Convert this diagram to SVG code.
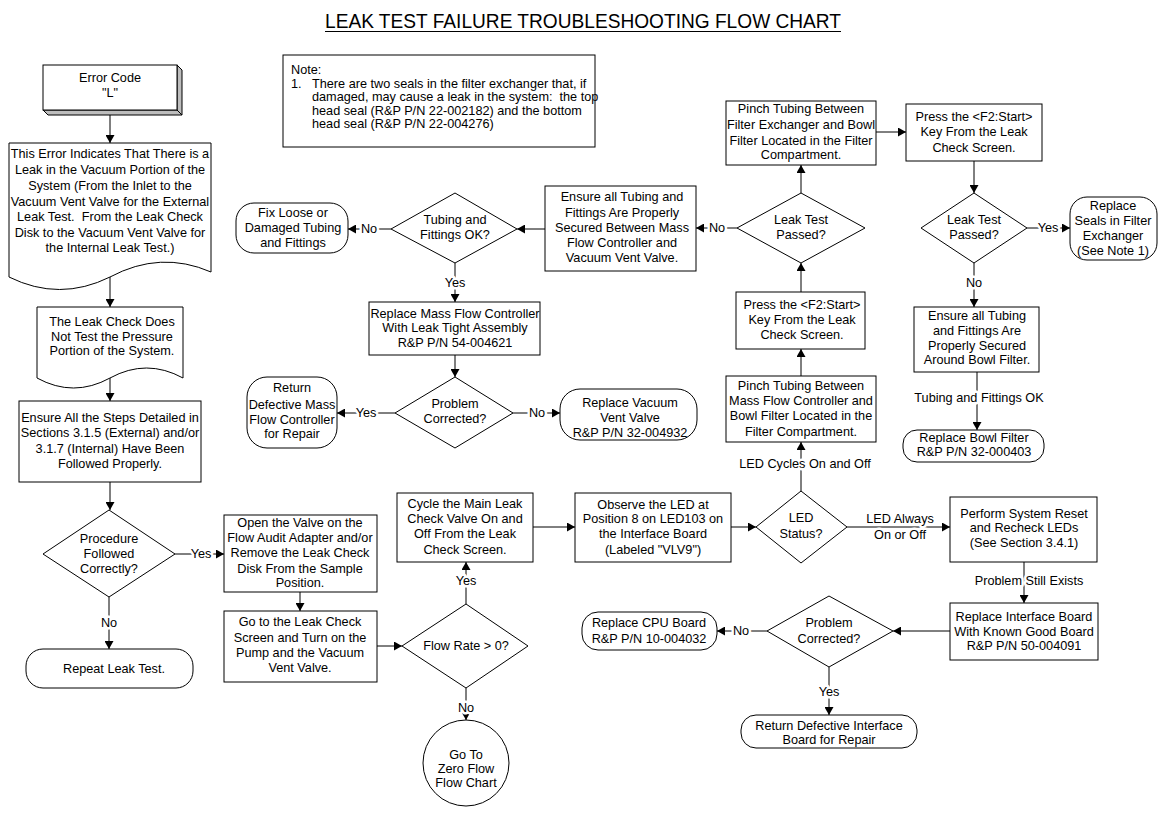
<svg xmlns="http://www.w3.org/2000/svg" width="1158" height="813" viewBox="0 0 1158 813">
<style>
text{font-family:"Liberation Sans",Arial,sans-serif;font-size:12.7px;fill:#000;text-anchor:middle;dominant-baseline:central;white-space:pre}
.box{fill:#fff;stroke:#000;stroke-width:1}
.side{fill:#bdbdbd;stroke:#000;stroke-width:1}
.c{fill:none;stroke:#000;stroke-width:1}
.a{marker-end:url(#ah)}
.lbl{paint-order:stroke;stroke:#fff;stroke-width:5px;stroke-linejoin:round}
.note{text-anchor:start}
.title{font-size:21px;dominant-baseline:alphabetic}
</style>
<defs>
<marker id="ah" markerUnits="userSpaceOnUse" markerWidth="9" markerHeight="9" refX="8" refY="4.5" orient="auto"><path d="M0,0 L8,4.5 L0,9 Z" fill="#000"/></marker>
</defs>
<rect width="1158" height="813" fill="#fff"/>
<g id="title"><text class="title" x="583" y="28" textLength="516" lengthAdjust="spacingAndGlyphs">LEAK TEST FAILURE TROUBLESHOOTING FLOW CHART</text><line x1="325" y1="31.5" x2="841" y2="31.5" stroke="#000" stroke-width="1"/></g>

<g id="connectors">
<line class="c a" x1="110" y1="115" x2="110" y2="143"/>
<line class="c a" x1="110" y1="277" x2="110" y2="307"/>
<line class="c a" x1="110" y1="378" x2="110" y2="401"/>
<line class="c a" x1="110" y1="482" x2="110" y2="510"/>
<line class="c a" x1="175" y1="554" x2="224" y2="554"/>
<line class="c a" x1="109" y1="597" x2="109" y2="649"/>
<line class="c a" x1="300" y1="592" x2="300" y2="611"/>
<line class="c a" x1="377" y1="646" x2="402" y2="646"/>
<line class="c a" x1="466" y1="604" x2="466" y2="562"/>
<line class="c a" x1="466" y1="688" x2="466" y2="720"/>
<line class="c a" x1="533" y1="527" x2="575" y2="527"/>
<line class="c a" x1="731" y1="527" x2="756" y2="527"/>
<line class="c a" x1="801" y1="491" x2="801" y2="442"/>
<line class="c a" x1="801" y1="376" x2="801" y2="349"/>
<line class="c a" x1="801" y1="292" x2="801" y2="263"/>
<line class="c a" x1="801" y1="193" x2="801" y2="165"/>
<line class="c a" x1="876" y1="132" x2="906" y2="132"/>
<line class="c a" x1="974" y1="161" x2="974" y2="193"/>
<line class="c a" x1="1027" y1="228" x2="1070" y2="228"/>
<line class="c a" x1="974" y1="263" x2="974" y2="307"/>
<line class="c a" x1="977" y1="372" x2="977" y2="430"/>
<line class="c a" x1="737" y1="228" x2="696" y2="228"/>
<line class="c a" x1="545" y1="229" x2="517" y2="229"/>
<line class="c a" x1="391" y1="229" x2="348" y2="229"/>
<line class="c a" x1="455" y1="263" x2="455" y2="302"/>
<line class="c a" x1="455" y1="355" x2="455" y2="377"/>
<line class="c a" x1="395" y1="413" x2="337" y2="413"/>
<line class="c a" x1="513" y1="413" x2="560" y2="413"/>
<line class="c a" x1="847" y1="527" x2="950" y2="527"/>
<line class="c a" x1="1024" y1="562" x2="1024" y2="603"/>
<line class="c a" x1="950" y1="631" x2="893" y2="631"/>
<line class="c a" x1="767" y1="631" x2="717" y2="631"/>
<line class="c a" x1="829" y1="667" x2="829" y2="715"/>
<text class="lbl" x="201" y="554">Yes</text>
<text class="lbl" x="109" y="623">No</text>
<text class="lbl" x="466" y="581">Yes</text>
<text class="lbl" x="466" y="708">No</text>
<text class="lbl" x="805" y="464">LED Cycles On and Off</text>
<text class="lbl" x="1048" y="228">Yes</text>
<text class="lbl" x="974" y="283">No</text>
<text class="lbl" x="979" y="398">Tubing and Fittings OK</text>
<text class="lbl" x="717" y="228">No</text>
<text class="lbl" x="369" y="229">No</text>
<text class="lbl" x="455" y="283">Yes</text>
<text class="lbl" x="366" y="413">Yes</text>
<text class="lbl" x="537" y="413">No</text>
<text class="lbl" x="900"><tspan x="900" y="519">LED Always</tspan><tspan x="900" y="535">On or Off</tspan></text>
<text class="lbl" x="1029" y="581">Problem Still Exists</text>
<text class="lbl" x="741" y="631">No</text>
<text class="lbl" x="829" y="692">Yes</text>
</g>

<g id="n_error">
<polygon class="side" points="177,65 182,70 182,115 177,110"/>
<polygon class="side" points="43,110 48,115 182,115 177,110"/>
<rect class="box" x="43" y="65" width="134" height="45"/>
<text><tspan x="110" y="78">Error Code</tspan><tspan x="110" y="93">"L"</tspan></text>
</g>

<g id="n_doc1">
<path class="box" d="M9,143 H211 V272 Q160.5,250 110,277 Q59.5,302 9,277 Z"/>
<text><tspan x="110" y="154">This Error Indicates That There is a</tspan><tspan x="110" y="170">Leak in the Vacuum Portion of the</tspan><tspan x="110" y="186">System (From the Inlet to the</tspan><tspan x="110" y="202">Vacuum Vent Valve for the External</tspan><tspan x="110" y="217">Leak Test.  From the Leak Check</tspan><tspan x="110" y="233">Disk to the Vacuum Vent Valve for</tspan><tspan x="110" y="248">the Internal Leak Test.)</tspan></text>
</g>

<g id="n_doc2">
<path class="box" d="M37,307 H183 V378 Q146.5,358 110,378 Q73.5,398 37,378 Z"/>
<text><tspan x="112" y="322">The Leak Check Does</tspan><tspan x="112" y="337">Not Test the Pressure</tspan><tspan x="112" y="351">Portion of the System.</tspan></text>
</g>

<g id="n_ensure_steps">
<rect class="box" x="19" y="401" width="182" height="81"/>
<text><tspan x="110" y="418">Ensure All the Steps Detailed in</tspan><tspan x="110" y="433">Sections 3.1.5 (External) and/or</tspan><tspan x="110" y="449">3.1.7 (Internal) Have Been</tspan><tspan x="110" y="464">Followed Properly.</tspan></text>
</g>

<g id="d_procedure">
<polygon class="box" points="109,510 175,554 109,597 43,554"/>
<text><tspan x="109" y="539">Procedure</tspan><tspan x="109" y="554">Followed</tspan><tspan x="109" y="569">Correctly?</tspan></text>
</g>

<g id="t_repeat">
<rect class="box" x="26" y="649" width="167" height="39" rx="17" ry="17"/>
<text x="114" y="669">Repeat Leak Test.</text>
</g>

<g id="n_open_valve">
<rect class="box" x="224" y="515" width="153" height="77"/>
<text><tspan x="300" y="523">Open the Valve on the</tspan><tspan x="300" y="538">Flow Audit Adapter and/or</tspan><tspan x="300" y="553">Remove the Leak Check</tspan><tspan x="300" y="569">Disk From the Sample</tspan><tspan x="300" y="583">Position.</tspan></text>
</g>

<g id="n_goto_screen">
<rect class="box" x="224" y="611" width="153" height="71"/>
<text><tspan x="300" y="622">Go to the Leak Check</tspan><tspan x="300" y="638">Screen and Turn on the</tspan><tspan x="300" y="653">Pump and the Vacuum</tspan><tspan x="300" y="668">Vent Valve.</tspan></text>
</g>

<g id="d_flowrate">
<polygon class="box" points="466,604 528,646 466,688 402,646"/>
<text x="466" y="646">Flow Rate &gt; 0?</text>
</g>

<g id="c_zero">
<circle class="box" cx="466" cy="763" r="43"/>
<text><tspan x="466" y="755">Go To</tspan><tspan x="466" y="769">Zero Flow</tspan><tspan x="466" y="783">Flow Chart</tspan></text>
</g>

<g id="n_cycle">
<rect class="box" x="397" y="493" width="136" height="69"/>
<text><tspan x="465" y="504">Cycle the Main Leak</tspan><tspan x="465" y="519">Check Valve On and</tspan><tspan x="465" y="534">Off From the Leak</tspan><tspan x="465" y="550">Check Screen.</tspan></text>
</g>

<g id="n_observe">
<rect class="box" x="575" y="493" width="156" height="69"/>
<text><tspan x="653" y="505">Observe the LED at</tspan><tspan x="653" y="519">Position 8 on LED103 on</tspan><tspan x="653" y="534">the Interface Board</tspan><tspan x="653" y="550">(Labeled "VLV9")</tspan></text>
</g>

<g id="d_led">
<polygon class="box" points="801,491 847,527 801,563 756,527"/>
<text><tspan x="801" y="518">LED</tspan><tspan x="801" y="534">Status?</tspan></text>
</g>

<g id="n_pinch_mfc">
<rect class="box" x="726" y="376" width="150" height="66"/>
<text><tspan x="801" y="386">Pinch Tubing Between</tspan><tspan x="801" y="401">Mass Flow Controller and</tspan><tspan x="801" y="416">Bowl Filter Located in the</tspan><tspan x="801" y="432">Filter Compartment.</tspan></text>
</g>

<g id="n_press1">
<rect class="box" x="736" y="292" width="129" height="57"/>
<text><tspan x="802" y="305">Press the &lt;F2:Start&gt;</tspan><tspan x="802" y="320">Key From the Leak</tspan><tspan x="802" y="335">Check Screen.</tspan></text>
</g>

<g id="d_leak1">
<polygon class="box" points="801,193 865,228 801,263 737,228"/>
<text><tspan x="801" y="220">Leak Test</tspan><tspan x="801" y="235">Passed?</tspan></text>
</g>

<g id="n_pinch_fe">
<rect class="box" x="726" y="101" width="150" height="64"/>
<text><tspan x="801" y="109">Pinch Tubing Between</tspan><tspan x="801" y="125">Filter Exchanger and Bowl</tspan><tspan x="801" y="141">Filter Located in the Filter</tspan><tspan x="801" y="155">Compartment.</tspan></text>
</g>

<g id="n_press2">
<rect class="box" x="906" y="104" width="136" height="57"/>
<text><tspan x="974" y="117">Press the &lt;F2:Start&gt;</tspan><tspan x="974" y="132">Key From the Leak</tspan><tspan x="974" y="148">Check Screen.</tspan></text>
</g>

<g id="d_leak2">
<polygon class="box" points="974,193 1027,228 974,263 921,228"/>
<text><tspan x="974" y="220">Leak Test</tspan><tspan x="974" y="235">Passed?</tspan></text>
</g>

<g id="t_seals">
<rect class="box" x="1070" y="197" width="87" height="63" rx="17" ry="17"/>
<text><tspan x="1113" y="206">Replace</tspan><tspan x="1113" y="221">Seals in Filter</tspan><tspan x="1113" y="236">Exchanger</tspan><tspan x="1113" y="251">(See Note 1)</tspan></text>
</g>

<g id="n_ensure_bowl">
<rect class="box" x="914" y="307" width="125" height="65"/>
<text><tspan x="977" y="316">Ensure all Tubing</tspan><tspan x="977" y="331">and Fittings Are</tspan><tspan x="977" y="346">Properly Secured</tspan><tspan x="977" y="360">Around Bowl Filter.</tspan></text>
</g>

<g id="t_bowl">
<rect class="box" x="903" y="430" width="141" height="32" rx="14" ry="14"/>
<text><tspan x="974" y="438">Replace Bowl Filter</tspan><tspan x="974" y="452">R&amp;P P/N 32-000403</tspan></text>
</g>

<g id="n_reset">
<rect class="box" x="950" y="497" width="147" height="65"/>
<text><tspan x="1024" y="514">Perform System Reset</tspan><tspan x="1024" y="528">and Recheck LEDs</tspan><tspan x="1024" y="543">(See Section 3.4.1)</tspan></text>
</g>

<g id="n_replace_if">
<rect class="box" x="950" y="603" width="148" height="57"/>
<text><tspan x="1024" y="617">Replace Interface Board</tspan><tspan x="1024" y="632">With Known Good Board</tspan><tspan x="1024" y="646">R&amp;P P/N 50-004091</tspan></text>
</g>

<g id="d_problem2">
<polygon class="box" points="829,596 893,631 829,667 767,631"/>
<text><tspan x="829" y="623">Problem</tspan><tspan x="829" y="639">Corrected?</tspan></text>
</g>

<g id="t_cpu">
<rect class="box" x="582" y="612" width="135" height="38" rx="16" ry="16"/>
<text><tspan x="649" y="623">Replace CPU Board</tspan><tspan x="649" y="639">R&amp;P P/N 10-004032</tspan></text>
</g>

<g id="t_return_if">
<rect class="box" x="741" y="715" width="176" height="33" rx="15" ry="15"/>
<text><tspan x="829" y="726">Return Defective Interface</tspan><tspan x="829" y="740">Board for Repair</tspan></text>
</g>

<g id="n_ensure_mfc">
<rect class="box" x="545" y="186" width="151" height="85"/>
<text><tspan x="622" y="197">Ensure all Tubing and</tspan><tspan x="622" y="213">Fittings Are Properly</tspan><tspan x="622" y="228">Secured Between Mass</tspan><tspan x="622" y="243">Flow Controller and</tspan><tspan x="622" y="258">Vacuum Vent Valve.</tspan></text>
</g>

<g id="d_tubing">
<polygon class="box" points="455,193 517,229 455,263 391,229"/>
<text><tspan x="455" y="220">Tubing and</tspan><tspan x="455" y="235">Fittings OK?</tspan></text>
</g>

<g id="t_fix">
<rect class="box" x="236" y="203" width="112" height="50" rx="18" ry="18"/>
<text><tspan x="293" y="213">Fix Loose or</tspan><tspan x="293" y="228">Damaged Tubing</tspan><tspan x="293" y="243">and Fittings</tspan></text>
</g>

<g id="n_replace_mfc">
<rect class="box" x="369" y="302" width="171" height="53"/>
<text><tspan x="455" y="314">Replace Mass Flow Controller</tspan><tspan x="455" y="328">With Leak Tight Assembly</tspan><tspan x="455" y="343">R&amp;P P/N 54-004621</tspan></text>
</g>

<g id="d_problem1">
<polygon class="box" points="455,377 513,413 455,448 395,413"/>
<text><tspan x="455" y="404">Problem</tspan><tspan x="455" y="419">Corrected?</tspan></text>
</g>

<g id="t_return_mfc">
<rect class="box" x="247" y="377" width="90" height="71" rx="20" ry="20"/>
<text><tspan x="292" y="388">Return</tspan><tspan x="292" y="405">Defective Mass</tspan><tspan x="292" y="420">Flow Controller</tspan><tspan x="292" y="434">for Repair</tspan></text>
</g>

<g id="t_vent">
<rect class="box" x="560" y="389" width="137" height="51" rx="20" ry="20"/>
<text><tspan x="630" y="403">Replace Vacuum</tspan><tspan x="630" y="418">Vent Valve</tspan><tspan x="630" y="433">R&amp;P P/N 32-004932</tspan></text>
</g>

<g id="n_note">
<rect class="box" x="283" y="55" width="312" height="92"/>
<text class="note"><tspan x="291" y="70">Note:</tspan><tspan x="291" y="83.5">1.</tspan><tspan x="312" y="83.5">There are two seals in the filter exchanger that, if</tspan><tspan x="312" y="97">damaged, may cause a leak in the system:  the top</tspan><tspan x="312" y="110.5">head seal (R&amp;P P/N 22-002182) and the bottom</tspan><tspan x="312" y="124">head seal (R&amp;P P/N 22-004276)</tspan></text>
</g>
</svg>
